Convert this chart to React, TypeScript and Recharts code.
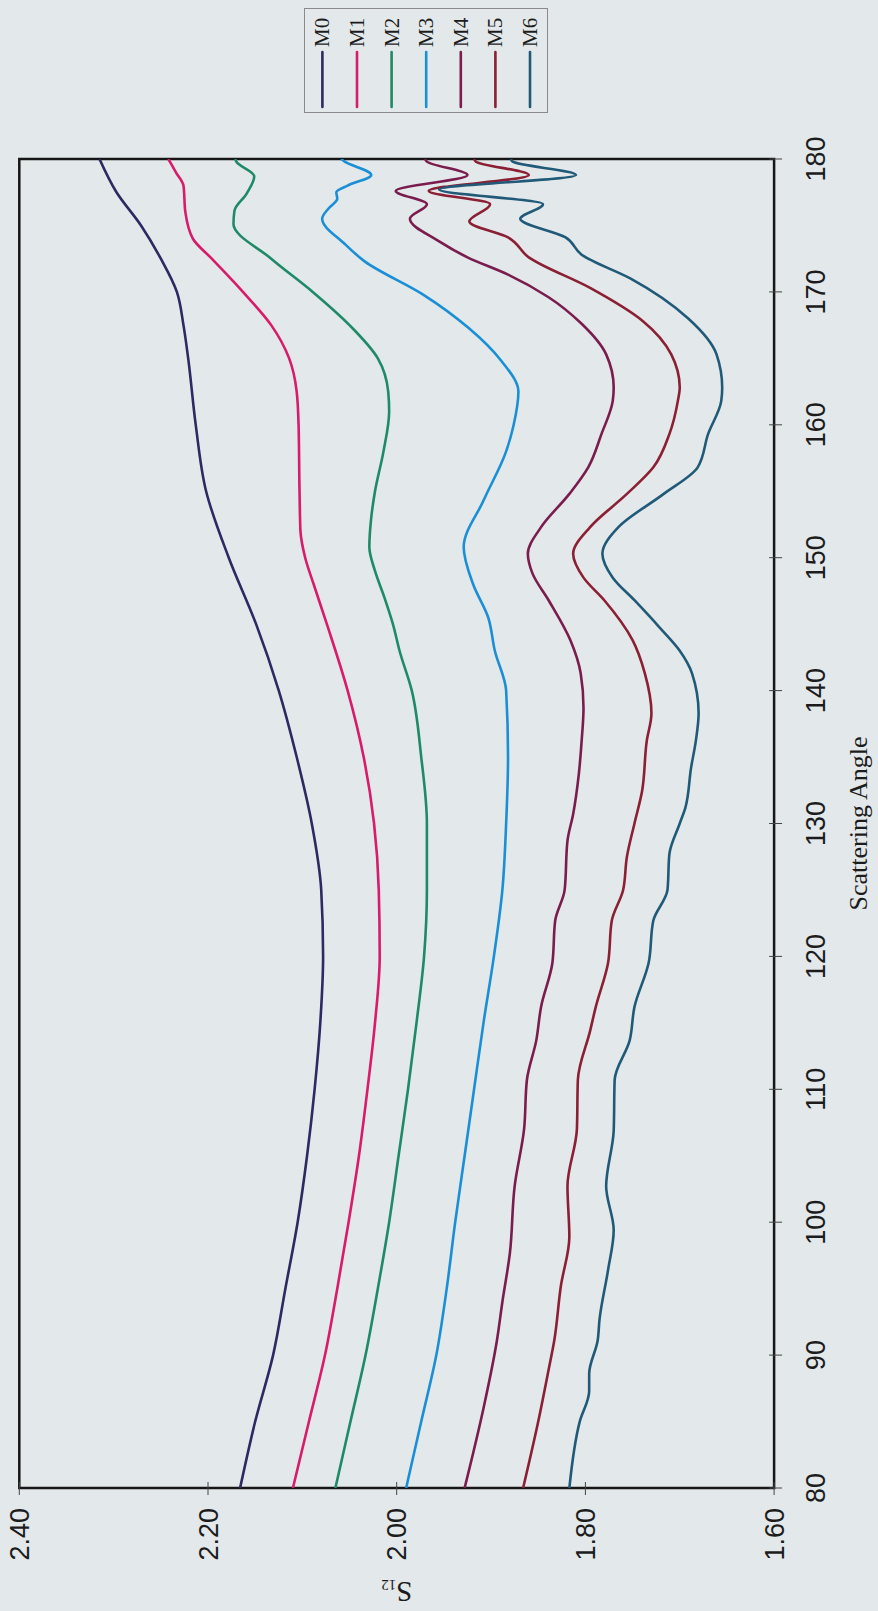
import React from "react";
import { LineChart, Line, XAxis, YAxis, ReferenceArea, Legend, Label } from "recharts";

// the printed chart is turned a quarter turn, so we draw it upright and rotate the box
const PAGE_W = 878;
const PAGE_H = 1611;

// [scattering angle, S12]
const M0: [number, number][] = [
  [80, 2.166], [85, 2.15], [90, 2.131], [95, 2.118], [100, 2.105], [105, 2.095],
  [110, 2.087], [115, 2.081], [120, 2.078], [125, 2.08], [130, 2.09], [135, 2.106],
  [140, 2.125], [145, 2.149], [150, 2.178], [155, 2.202], [160, 2.213], [165, 2.221],
  [167.5, 2.226], [170, 2.233], [172.5, 2.25], [175, 2.271], [177.5, 2.297], [180, 2.315],
];
const M1: [number, number][] = [
  [80, 2.11], [85, 2.093], [90, 2.076], [95, 2.063], [100, 2.051], [105, 2.04],
  [110, 2.031], [115, 2.023], [120, 2.018], [125, 2.019], [130, 2.024], [135, 2.035],
  [140, 2.052], [145, 2.074], [148, 2.088], [150, 2.097], [152, 2.102], [155, 2.103],
  [160, 2.104], [162.5, 2.106], [165, 2.114], [167.5, 2.133], [170, 2.163], [172.5, 2.196],
  [174, 2.216], [176, 2.224], [178, 2.226], [179, 2.234], [180, 2.242],
];
const M2: [number, number][] = [
  [80, 2.065], [85, 2.049], [90, 2.033], [95, 2.02], [100, 2.008], [105, 1.998],
  [110, 1.988], [115, 1.979], [120, 1.971], [125, 1.968], [130, 1.968], [135, 1.974],
  [140, 1.984], [143, 1.997], [145, 2.004], [147, 2.013], [149, 2.023], [150.8, 2.029],
  [153, 2.027], [155, 2.023], [158, 2.014], [161, 2.008], [162.5, 2.009], [165, 2.02],
  [167.5, 2.05], [170, 2.089], [172.5, 2.133], [175.1, 2.173], [176.1, 2.172],
  [177.4, 2.159], [178.7, 2.151], [179.8, 2.17], [180, 2.171],
];
const M3: [number, number][] = [
  [80, 1.99], [85, 1.974], [90, 1.958], [95, 1.947], [100, 1.938], [105, 1.928],
  [110, 1.918], [115, 1.908], [120, 1.897], [125, 1.888], [130, 1.884], [135, 1.882],
  [140, 1.884], [143, 1.896], [145.5, 1.903], [148, 1.919], [150.8, 1.929], [154.3, 1.908],
  [158, 1.884], [160, 1.876], [162.5, 1.871], [164.8, 1.889], [167.3, 1.924], [169.8, 1.972],
  [172.3, 2.034], [173.6, 2.055], [175.5, 2.079], [176.3, 2.072], [177, 2.063],
  [177.5, 2.064], [178, 2.052], [178.8, 2.027], [179.8, 2.055], [180, 2.059],
];
const M4: [number, number][] = [
  [80, 1.928], [86, 1.908], [91, 1.894], [94, 1.888], [97.7, 1.88], [102.7, 1.875],
  [107, 1.865], [110.7, 1.862], [113.7, 1.852], [116.2, 1.847], [119.5, 1.835],
  [122.7, 1.832], [125, 1.822], [128.7, 1.819], [130.7, 1.813], [133.7, 1.807],
  [136.2, 1.804], [138.7, 1.802], [141.3, 1.805], [143.8, 1.816], [146.8, 1.839],
  [148.8, 1.856], [150.3, 1.861], [152.3, 1.847], [154.8, 1.817], [156.8, 1.797],
  [159.3, 1.783], [161.8, 1.771], [162.8, 1.77], [165.3, 1.778], [167.6, 1.804],
  [169.6, 1.839], [171.3, 1.882], [172.6, 1.925], [173.8, 1.955], [175.5, 1.986],
  [176.6, 1.968], [177.6, 2.001], [178.8, 1.925], [179.8, 1.968], [180, 1.97],
];
const M5: [number, number][] = [
  [80, 1.866], [85, 1.85], [88.9, 1.839], [91.1, 1.833], [95.2, 1.826], [98.9, 1.817],
  [102.7, 1.819], [107, 1.809], [110.7, 1.808], [114.4, 1.795], [116.2, 1.789],
  [119.5, 1.776], [122.7, 1.772], [125, 1.76], [127.5, 1.756], [130, 1.748],
  [132.4, 1.74], [136.2, 1.735], [138.3, 1.73], [141.3, 1.737], [143.8, 1.75],
  [146.8, 1.78], [148.5, 1.802], [150.3, 1.813], [152.3, 1.795], [154.8, 1.756],
  [156.8, 1.728], [159.3, 1.711], [161.8, 1.702], [162.8, 1.7], [165.3, 1.709],
  [167.8, 1.739], [170.3, 1.795], [172.6, 1.86], [174.1, 1.882], [175.3, 1.923],
  [176.6, 1.901], [177.6, 1.966], [178.8, 1.86], [179.8, 1.916], [180, 1.918],
];
const M6: [number, number][] = [
  [80, 1.817], [85, 1.806], [87.3, 1.796], [88.6, 1.796], [91.1, 1.787], [92.7, 1.785],
  [96.4, 1.776], [99.4, 1.77], [102.7, 1.778], [106.9, 1.77], [110.7, 1.769],
  [113.7, 1.753], [116.2, 1.748], [119.5, 1.733], [122.7, 1.728], [125, 1.713],
  [127.7, 1.711], [130, 1.7], [131.2, 1.694], [134.2, 1.688], [136.2, 1.683],
  [138.3, 1.68], [141.3, 1.687], [143, 1.7], [144.8, 1.722], [146.8, 1.748],
  [148.5, 1.771], [150.3, 1.782], [152.3, 1.765], [154.8, 1.717], [156.8, 1.681],
  [159.3, 1.67], [161.8, 1.656], [162.8, 1.655], [165.3, 1.661], [168, 1.691],
  [171, 1.752], [172.8, 1.804], [174.1, 1.821], [175.5, 1.869], [176.6, 1.845],
  [177.7, 1.955], [178.8, 1.81], [179.8, 1.877], [180, 1.879],
];

const angleTicks = [80, 90, 100, 110, 120, 130, 140, 150, 160, 170, 180];
const s12Ticks = [1.6, 1.8, 2.0, 2.2, 2.4];

const series = [
  { name: "M0", points: M0, color: "#2b2a63" },
  { name: "M1", points: M1, color: "#d81b6a" },
  { name: "M2", points: M2, color: "#1e8a66" },
  { name: "M3", points: M3, color: "#1b8fd6" },
  { name: "M4", points: M4, color: "#7b1c4e" },
  { name: "M5", points: M5, color: "#8b1f33" },
  { name: "M6", points: M6, color: "#205a78" },
];

const toRows = (pts: [number, number][]) => pts.map(([a, v]) => ({ a, v }));

const SANS = "'Liberation Sans', Arial, sans-serif";
const SERIF = "'Liberation Serif', 'Times New Roman', serif";

function AngleTick({ x, y, payload }: any) {
  return (
    <g>
      <line x1={x} x2={x} y1={y - 5} y2={y + 8} stroke="#444" strokeWidth={1} />
      <text x={x} y={y + 51} textAnchor="middle" fontFamily={SANS} fontSize={27} fill="#1c1c1c">
        {payload.value}
      </text>
    </g>
  );
}

function S12Tick({ x, y, payload }: any) {
  return (
    <g>
      <line x1={x - 7} x2={x + 6} y1={y} y2={y} stroke="#444" strokeWidth={1} />
      <text x={x - 20} y={y} dy={9.5} textAnchor="end" fontFamily={SANS} fontSize={27} fill="#1c1c1c">
        {Number(payload.value).toFixed(2)}
      </text>
    </g>
  );
}

function S12Label({ viewBox }: any) {
  const cx = viewBox.x - 14;
  const cy = viewBox.y + viewBox.height / 2;
  return (
    <text
      x={cx}
      y={cy}
      transform={`rotate(-90 ${cx} ${cy})`}
      textAnchor="middle"
      fontFamily={SERIF}
      fontSize={29}
      fill="#1c1c1c"
    >
      S<tspan fontSize={15} dy={2}>12</tspan>
    </text>
  );
}

function AngleLabel({ viewBox }: any) {
  return (
    <text
      x={viewBox.x + viewBox.width / 2}
      y={viewBox.y + 93}
      textAnchor="middle"
      fontFamily={SERIF}
      fontSize={26}
      fill="#1c1c1c"
    >
      Scattering Angle
    </text>
  );
}

function LegendBox() {
  return (
    <svg width={105} height={244} style={{ display: "block" }}>
      <rect x={0.5} y={0.5} width={104} height={243} fill="none" stroke="#8a8a8a" strokeWidth={1} />
      {series.map((s, i) => {
        const cy = 18.4 + i * 34.6;
        return (
          <g key={s.name}>
            <line x1={6} x2={61} y1={cy} y2={cy} stroke={s.color} strokeWidth={2.6} strokeLinecap="round" />
            <text x={66} y={cy} dy={7} fontFamily={SERIF} fontSize={21} fill="#1c1c1c">
              {s.name}
            </text>
          </g>
        );
      })}
    </svg>
  );
}

export default function App() {
  return (
    <div
      style={{
        position: "absolute",
        left: 0,
        top: 0,
        width: PAGE_W,
        height: PAGE_H,
        overflow: "hidden",
        background: "#e3e8ea",
      }}
    >
      <div
        style={{
          position: "absolute",
          left: 0,
          top: 0,
          width: PAGE_H,
          height: PAGE_W,
          transformOrigin: "0 0",
          transform: `translateY(${PAGE_H}px) rotate(-90deg)`,
        }}
      >
        <LineChart
          width={PAGE_H}
          height={PAGE_W}
          margin={{ top: 19.3, right: 159, bottom: 43.9, left: 43 }}
        >
          <XAxis
            type="number"
            dataKey="a"
            domain={[80, 180]}
            ticks={angleTicks}
            allowDataOverflow
            axisLine={false}
            tickLine={false}
            tickSize={0}
            tickMargin={0}
            height={60}
            tick={<AngleTick />}
            interval={0}
          >
            <Label content={<AngleLabel />} />
          </XAxis>
          <YAxis
            type="number"
            domain={[1.6, 2.4]}
            ticks={s12Ticks}
            allowDataOverflow
            axisLine={false}
            tickLine={false}
            tickSize={0}
            tickMargin={0}
            width={80}
            tick={<S12Tick />}
            interval={0}
          >
            <Label content={<S12Label />} />
          </YAxis>
          <ReferenceArea
            x1={80}
            x2={180}
            y1={1.6}
            y2={2.4}
            fill="none"
            fillOpacity={0}
            stroke="#161616"
            strokeWidth={2.5}
          />
          {series.map((s) => (
            <Line
              key={s.name}
              name={s.name}
              data={toRows(s.points)}
              dataKey="v"
              type="monotone"
              stroke={s.color}
              strokeWidth={2.6}
              dot={false}
              activeDot={false}
              isAnimationActive={false}
            />
          ))}
          <Legend
            layout="vertical"
            align="center"
            verticalAlign="middle"
            width={105}
            height={244}
            wrapperStyle={{ left: 1498, top: 304, width: 105, height: 244 }}
            content={() => <LegendBox />}
          />
        </LineChart>
      </div>
    </div>
  );
}
